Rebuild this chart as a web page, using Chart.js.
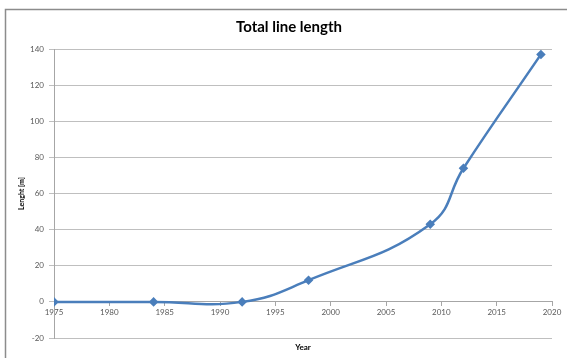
<!DOCTYPE html>
<html>
<head>
<meta charset="utf-8">
<script src="https://cdn.jsdelivr.net/npm/chart.js"></script>
<style>
  html, body { margin: 0; padding: 0; background: #fff; overflow: hidden; }
  #wrap { width: 567px; height: 358px; }
</style>
</head>
<body>
<div id="wrap"><canvas id="myChart" width="567" height="358"></canvas></div>
<script>
// data
const years = [1975, 1984, 1992, 1998, 2009, 2012, 2019];
const lengths = [0, 0, 0, 12, 43, 74, 137];
const yearTicks = [1975, 1980, 1985, 1990, 1995, 2000, 2005, 2010, 2015, 2020];
const lengthTicks = [-20, 0, 20, 40, 60, 80, 100, 120, 140];

const tickFont = { family: 'Lato, "Open Sans", sans-serif', size: 8 };
const labelFont = { family: 'Lato, "Open Sans", sans-serif', size: 8, weight: 'bold' };

// white background + grey frame (top and left edges of the chart box)
const frame = {
    id: 'frame',
    beforeDraw(chart) {
        const ctx = chart.ctx;
        ctx.save();
        ctx.fillStyle = '#fff';
        ctx.fillRect(0, 0, chart.width, chart.height);
        ctx.strokeStyle = '#8c8c8c';
        ctx.lineWidth = 1.5;
        ctx.beginPath();
        ctx.moveTo(5.5, chart.height);
        ctx.lineTo(5.5, 9.5);
        ctx.lineTo(chart.width, 9.5);
        ctx.stroke();
        ctx.restore();
    }
};

const ctx = document.getElementById('myChart').getContext('2d');
const myChart = new Chart(ctx, {
    type: 'line',
    data: {
        datasets: [{
            label: 'Total line length',
            data: years.map((y, i) => ({ x: y, y: lengths[i] })),
            borderColor: '#4a7ebb',
            backgroundColor: '#4a7ebb',
            borderWidth: 2.5,
            tension: 0.45,
            pointStyle: 'rectRot',
            pointRadius: 3,
            pointHoverRadius: 3,
            xAxisID: 'x',
            yAxisID: 'y'
        }]
    },
    options: {
        responsive: false,
        animation: false,
        layout: { padding: { left: 11, right: 0, top: 0, bottom: 0 } },
        plugins: {
            legend: { display: false },
            tooltip: { enabled: false },
            title: {
                display: true,
                text: 'Total line length',
                color: '#000',
                font: { family: 'Lato, "Open Sans", sans-serif', size: 15, weight: 'bold' },
                padding: { top: 18, bottom: 13 }
            }
        },
        scales: {
            x: {
                type: 'linear',
                position: { y: 0 },
                min: 1975,
                max: 2020,
                afterBuildTicks: s => { s.ticks = yearTicks.map(v => ({ value: v })); },
                ticks: {
                    callback: v => v,
                    color: '#595959',
                    font: tickFont,
                    padding: 2,
                    maxRotation: 0,
                    autoSkip: false
                },
                grid: { drawOnChartArea: false, drawTicks: true, tickLength: 4, color: '#a6a6a6' },
                border: { color: '#a6a6a6', width: 1 }
            },
            xTitle: {
                type: 'linear',
                position: 'bottom',
                min: 1975,
                max: 2020,
                ticks: { display: false },
                grid: { display: false, drawTicks: false },
                border: { display: false },
                title: { display: true, text: 'Year', color: '#000', font: labelFont, padding: { top: 0, bottom: 6 } },
                afterFit: s => { s.height = 20; }
            },
            y: {
                type: 'linear',
                position: 'left',
                min: -20,
                max: 140,
                afterBuildTicks: s => { s.ticks = lengthTicks.map(v => ({ value: v })); },
                ticks: { color: '#595959', font: tickFont, padding: 5 },
                grid: { color: '#bfbfbf', lineWidth: 1, tickLength: 5, drawTicks: true },
                border: { color: '#a6a6a6', width: 1 },
                title: { display: true, text: 'Lenght [m]', color: '#000', font: { family: 'Lato, "Open Sans", sans-serif', size: 7, weight: 'bold' }, padding: { top: 7, bottom: 0 } },
                afterFit: s => { s.width = 43; }
            },
            // empty right box so the plot ends where the reference's does
            yR: {
                type: 'linear',
                position: 'right',
                ticks: { display: false },
                grid: { display: false, drawTicks: false },
                border: { display: false },
                afterFit: s => { s.width = 15; }
            }
        }
    },
    plugins: [frame]
});
</script>
</body>
</html>
